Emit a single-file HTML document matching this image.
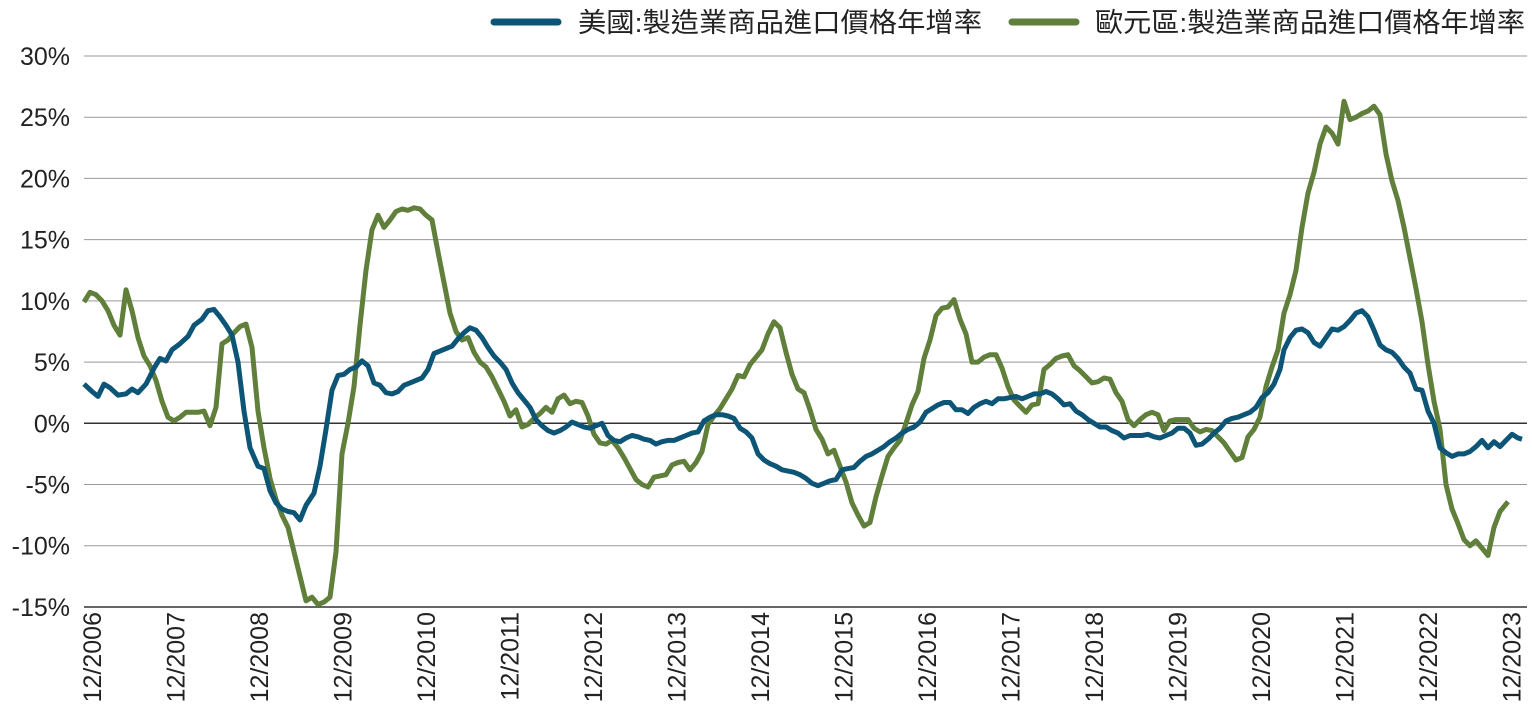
<!DOCTYPE html>
<html><head><meta charset="utf-8"><style>
html,body{margin:0;padding:0;background:#fff;}
body{width:1532px;height:720px;overflow:hidden;}
text{font-family:"Liberation Sans","Noto Sans CJK TC",sans-serif;fill:#222;}
</style></head><body>
<svg id="s" width="1532" height="720" xmlns="http://www.w3.org/2000/svg">
<g id="grid"></g>
<line x1="494" y1="22" x2="558" y2="22" stroke="#0d5577" stroke-width="7" stroke-linecap="round"/>
<text x="578" y="32" font-size="27" textLength="404" lengthAdjust="spacingAndGlyphs">美國:製造業商品進口價格年增率</text>
<line x1="1012" y1="22" x2="1076" y2="22" stroke="#5f7f3a" stroke-width="7" stroke-linecap="round"/>
<text x="1095" y="32" font-size="27" textLength="430" lengthAdjust="spacingAndGlyphs">歐元區:製造業商品進口價格年增率</text>
<polyline id="g" fill="none" stroke="#5f7f3a" stroke-width="5" stroke-linejoin="round"/>
<polyline id="b" fill="none" stroke="#0d5577" stroke-width="5" stroke-linejoin="round"/>
</svg>
<script>
var Y=function(v){return 423.3-v*12.244;};
var grid=document.getElementById('grid'),h='';
for(var v=30;v>=-15;v-=5){var y=Y(v);
 if(v>-15)h+='<line x1="84" x2="1527" y1="'+y+'" y2="'+y+'" stroke="'+(v==0?'#333':'#999')+'" stroke-width="'+(v==0?1.5:1)+'"/>';
 h+='<text x="70" y="'+(y+9)+'" font-size="25" text-anchor="end">'+v+'%</text>';}
h+='<line x1="84" x2="1527" y1="607" y2="607" stroke="#333" stroke-width="1.5"/>';
for(var i=0;i<18;i++){var x=92+i*83.5;
 h+='<text transform="translate('+(x+9)+',612) rotate(-90)" font-size="25" text-anchor="end">12/'+(2006+i)+'</text>';}
grid.innerHTML=h;
var B=[84,3.2,92,2.6,98,2.2,104,3.2,110,2.9,118,2.3,126,2.4,132,2.8,138,2.5,146,3.2,154,4.5,160,5.3,166,5.1,172,6.0,180,6.5,188,7.1,194,8.0,202,8.5,208,9.2,214,9.3,220,8.7,226,8.0,232,7.2,238,5.0,244,1.0,250,-2.0,258,-3.5,264,-3.7,270,-5.5,276,-6.5,282,-7.0,288,-7.2,294,-7.3,300,-7.9,306,-6.7,314,-5.7,320,-3.5,326,-0.5,332,2.7,338,3.9,344,4.0,350,4.4,356,4.6,362,5.1,368,4.7,374,3.3,380,3.1,386,2.5,392,2.4,398,2.6,404,3.1,410,3.3,416,3.5,422,3.7,428,4.4,434,5.7,440,5.9,446,6.1,452,6.3,458,6.9,464,7.4,470,7.8,476,7.6,482,7.0,488,6.2,494,5.5,500,5.0,506,4.4,512,3.3,518,2.5,524,1.9,530,1.3,536,0.3,542,-0.2,548,-0.6,554,-0.8,560,-0.6,566,-0.3,572,0.1,578,-0.1,584,-0.3,590,-0.4,596,-0.2,602,0.0,608,-1.0,614,-1.4,620,-1.5,626,-1.2,632,-1.0,638,-1.1,644,-1.3,650,-1.4,656,-1.7,662,-1.5,668,-1.4,674,-1.4,680,-1.2,686,-1.0,692,-0.8,698,-0.7,704,0.2,710,0.5,716,0.7,722,0.7,728,0.6,734,0.4,740,-0.4,746,-0.7,752,-1.2,758,-2.5,764,-3.0,770,-3.3,776,-3.5,782,-3.8,788,-3.9,794,-4.0,800,-4.2,806,-4.5,812,-4.9,818,-5.1,824,-4.9,830,-4.7,836,-4.6,842,-3.8,848,-3.7,854,-3.6,860,-3.1,866,-2.7,872,-2.5,878,-2.2,884,-1.9,890,-1.5,896,-1.2,902,-0.8,908,-0.5,914,-0.3,920,0.1,926,0.9,932,1.2,938,1.5,944,1.7,950,1.7,956,1.1,962,1.1,968,0.8,974,1.3,980,1.6,986,1.8,992,1.6,998,2.0,1004,2.0,1010,2.1,1016,2.2,1022,2.0,1028,2.2,1034,2.4,1040,2.4,1046,2.6,1052,2.4,1058,2.0,1064,1.5,1070,1.6,1076,1.0,1082,0.7,1088,0.3,1094,0.0,1100,-0.3,1106,-0.3,1112,-0.6,1118,-0.8,1124,-1.2,1130,-1.0,1136,-1.0,1142,-1.0,1148,-0.9,1154,-1.1,1160,-1.2,1166,-1.0,1172,-0.8,1178,-0.4,1184,-0.4,1190,-0.8,1196,-1.8,1202,-1.7,1208,-1.3,1214,-0.8,1220,-0.4,1226,0.2,1232,0.4,1238,0.5,1244,0.7,1250,0.9,1256,1.3,1262,2.1,1268,2.5,1274,3.2,1280,4.4,1284,6.0,1290,7.0,1296,7.6,1302,7.7,1308,7.4,1314,6.6,1320,6.3,1326,7.0,1332,7.7,1338,7.6,1344,7.9,1350,8.4,1356,9.0,1362,9.2,1368,8.7,1374,7.6,1380,6.4,1386,6.0,1392,5.8,1398,5.3,1404,4.6,1410,4.1,1416,2.8,1422,2.7,1428,1.0,1434,0.0,1440,-2.0,1446,-2.4,1452,-2.7,1458,-2.5,1464,-2.5,1470,-2.3,1476,-1.9,1482,-1.4,1488,-2.0,1494,-1.5,1500,-1.9,1506,-1.4,1512,-0.9,1518,-1.2,1522,-1.3];
var G=[84,9.9,90,10.7,96,10.5,102,10.0,108,9.2,114,8.0,120,7.2,126,10.9,132,9.2,138,7.0,144,5.5,150,4.7,156,3.5,162,1.8,168,0.5,174,0.2,180,0.5,186,0.9,192,0.9,198,0.9,204,1.0,210,-0.2,216,1.3,222,6.5,228,6.8,234,7.4,240,7.9,246,8.1,252,6.2,258,1.0,264,-2.0,270,-4.5,276,-6.2,282,-7.5,288,-8.5,294,-10.5,300,-12.5,306,-14.5,312,-14.2,318,-14.8,324,-14.6,330,-14.2,336,-10.5,342,-2.5,348,0.0,354,3.0,360,8.0,366,12.5,372,15.8,378,17.0,384,16.0,390,16.6,396,17.3,402,17.5,408,17.4,414,17.6,420,17.5,426,17.0,432,16.6,438,14.0,444,11.5,450,9.0,456,7.5,462,6.8,468,7.0,474,5.8,480,5.0,486,4.6,492,3.8,498,2.8,504,1.8,510,0.6,516,1.1,522,-0.3,528,-0.1,534,0.4,540,0.8,546,1.3,552,0.9,558,2.0,564,2.3,570,1.6,576,1.8,582,1.7,588,0.6,594,-0.9,600,-1.6,606,-1.7,612,-1.4,618,-2.0,624,-2.8,630,-3.7,636,-4.6,642,-5.0,648,-5.2,654,-4.4,660,-4.3,666,-4.2,672,-3.4,678,-3.2,684,-3.1,690,-3.8,696,-3.2,702,-2.3,708,-0.1,714,0.6,720,1.2,726,2.0,732,2.8,738,3.9,744,3.8,750,4.8,756,5.4,762,6.0,768,7.3,774,8.3,780,7.8,786,5.8,792,4.0,798,2.8,804,2.5,810,1.1,816,-0.5,822,-1.3,828,-2.5,834,-2.2,840,-3.5,846,-4.8,852,-6.5,858,-7.5,864,-8.4,870,-8.1,876,-6.0,882,-4.3,888,-2.7,894,-2.0,900,-1.4,906,0.0,912,1.5,918,2.6,924,5.3,930,6.8,936,8.8,942,9.4,948,9.5,954,10.1,960,8.5,966,7.3,972,5.0,978,5.0,984,5.4,990,5.6,996,5.6,1002,4.5,1008,3.0,1014,1.9,1020,1.4,1026,0.9,1032,1.5,1038,1.6,1044,4.4,1050,4.8,1056,5.3,1062,5.5,1068,5.6,1074,4.7,1080,4.3,1086,3.8,1092,3.3,1098,3.4,1104,3.7,1110,3.6,1116,2.5,1122,1.8,1128,0.3,1134,-0.2,1140,0.3,1146,0.7,1152,0.9,1158,0.7,1164,-0.6,1170,0.2,1176,0.3,1182,0.3,1188,0.3,1194,-0.4,1200,-0.7,1206,-0.5,1212,-0.6,1218,-1.1,1224,-1.6,1230,-2.3,1236,-3.0,1242,-2.8,1248,-1.1,1254,-0.5,1260,0.5,1266,3.0,1272,4.6,1278,6.0,1284,9.0,1290,10.5,1296,12.5,1302,16.0,1308,18.8,1314,20.5,1320,22.8,1326,24.2,1332,23.7,1338,22.8,1344,26.3,1350,24.8,1356,25.0,1362,25.3,1368,25.5,1374,25.9,1380,25.2,1386,22.0,1392,19.8,1398,18.2,1404,16.0,1410,13.5,1416,11.0,1422,8.3,1428,4.8,1434,1.8,1440,-0.5,1446,-5.0,1452,-7.0,1458,-8.2,1464,-9.5,1470,-10.0,1476,-9.6,1482,-10.2,1488,-10.8,1494,-8.5,1500,-7.2,1508,-6.4];
function pts(a){var s=[];for(var i=0;i<a.length;i+=2)s.push(a[i]+','+Y(a[i+1]).toFixed(1));return s.join(' ');}
document.getElementById('b').setAttribute('points',pts(B));
document.getElementById('g').setAttribute('points',pts(G));
</script>
</body></html>
